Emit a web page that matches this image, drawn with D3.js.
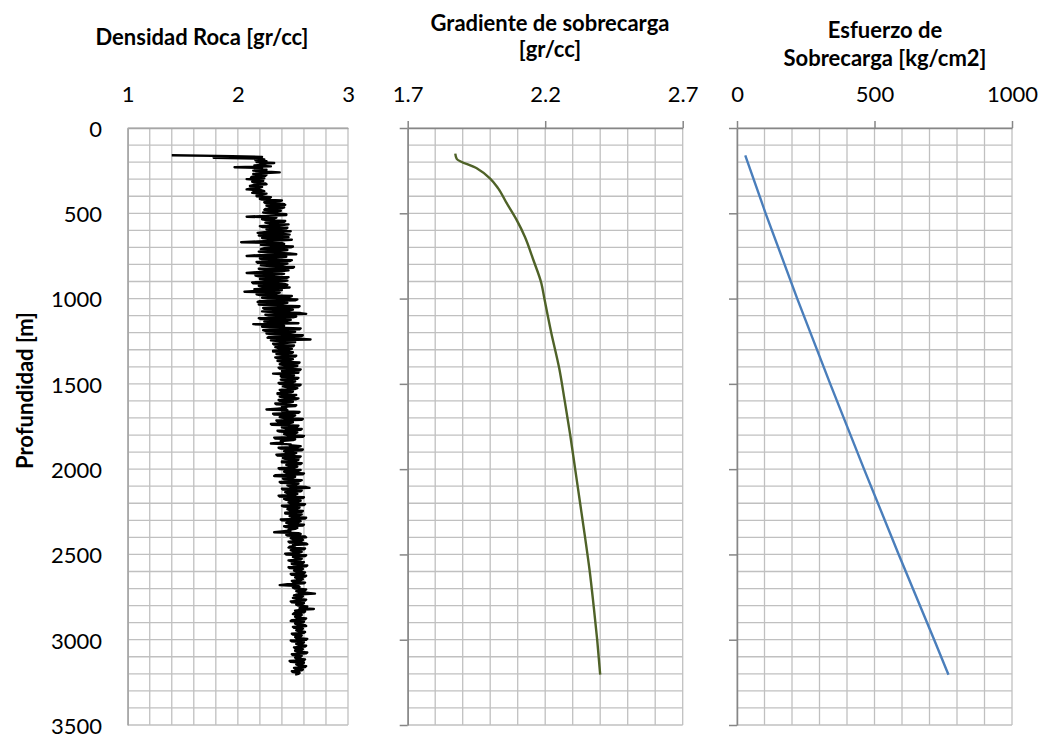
<!DOCTYPE html>
<html>
<head>
<meta charset="utf-8">
<script src="https://cdn.jsdelivr.net/npm/d3@7"></script>
<style>
  html, body { margin: 0; padding: 0; background: #ffffff; }
  svg { display: block; }
</style>
</head>
<body>
<svg id="chart" width="1042" height="736"></svg>
<script>
// ---------------- DATA ----------------
// Titles / labels
const titleRoca = ["Densidad Roca [gr/cc]"];
const titleGradiente = ["Gradiente de sobrecarga", "[gr/cc]"];
const titleEsfuerzo = ["Esfuerzo de", "Sobrecarga [kg/cm2]"];
const yAxisTitle = "Profundidad [m]";

// Tick values
const depthTicks = [0, 500, 1000, 1500, 2000, 2500, 3000, 3500];
const rocaTicks = [1, 2, 3];
const gradTicks = [1.7, 2.2, 2.7];
const esfTicks = [0, 500, 1000];

// Panel 1: rock density log, sampled every 5 m starting at 160 m
const rocaStartDepth = 160;
const rocaStep = 5;
const densidadRoca = [
  1.40, 1.95, 2.22, 1.78, 2.19, 2.24, 2.16, 2.26, 2.17, 2.33, 2.20, 2.25, 2.15, 2.30, 1.97, 2.22, 2.16, 2.26, 2.14, 2.23,
  2.38, 2.21, 2.14, 2.26, 2.25, 2.13, 2.12, 2.24, 2.08, 2.20, 2.23, 2.13, 2.15, 2.25, 2.26, 2.14, 2.11, 2.22, 2.20, 2.12,
  2.08, 2.21, 2.24, 2.15, 2.13, 2.26, 2.21, 2.17, 2.17, 2.30, 2.29, 2.20, 2.22, 2.40, 2.38, 2.24, 2.25, 2.41, 2.43, 2.26,
  2.28, 2.42, 2.40, 2.25, 2.24, 2.39, 2.36, 2.23, 2.30, 2.44, 2.44, 2.27, 2.08, 2.35, 2.33, 2.22, 2.26, 2.43, 2.42, 2.25,
  2.29, 2.46, 2.38, 2.20, 2.22, 2.45, 2.44, 2.26, 2.31, 2.48, 2.26, 2.18, 2.40, 2.47, 2.19, 2.30, 2.46, 2.22, 2.27, 2.49,
  2.36, 2.18, 2.03, 2.40, 2.42, 2.21, 2.30, 2.50, 2.48, 2.24, 2.21, 2.45, 2.39, 2.19, 2.27, 2.47, 2.53, 2.20, 2.08, 2.44,
  2.35, 2.20, 2.22, 2.49, 2.47, 2.17, 2.18, 2.45, 2.41, 2.21, 2.29, 2.51, 2.50, 2.19, 2.24, 2.46, 2.38, 2.17, 2.08, 2.42,
  2.33, 2.16, 2.19, 2.46, 2.44, 2.20, 2.26, 2.45, 2.37, 2.13, 2.14, 2.43, 2.45, 2.19, 2.22, 2.47, 2.31, 2.15, 2.40, 2.18,
  2.06, 2.38, 2.35, 2.17, 2.20, 2.49, 2.47, 2.22, 2.27, 2.54, 2.52, 2.20, 2.18, 2.45, 2.41, 2.19, 2.30, 2.56, 2.55, 2.23,
  2.24, 2.50, 2.46, 2.22, 2.33, 2.57, 2.62, 2.25, 2.28, 2.53, 2.50, 2.19, 2.21, 2.48, 2.44, 2.24, 2.36, 2.55, 2.14, 2.40,
  2.42, 2.22, 2.29, 2.57, 2.56, 2.23, 2.25, 2.52, 2.48, 2.26, 2.34, 2.59, 2.58, 2.28, 2.27, 2.55, 2.66, 2.30, 2.38, 2.52,
  2.45, 2.32, 2.33, 2.51, 2.50, 2.34, 2.37, 2.49, 2.47, 2.32, 2.32, 2.50, 2.49, 2.35, 2.40, 2.53, 2.52, 2.34, 2.36, 2.50,
  2.48, 2.36, 2.39, 2.56, 2.55, 2.38, 2.42, 2.54, 2.50, 2.37, 2.38, 2.57, 2.56, 2.40, 2.44, 2.55, 2.32, 2.45, 2.51, 2.39,
  2.40, 2.55, 2.54, 2.39, 2.43, 2.52, 2.50, 2.37, 2.38, 2.57, 2.56, 2.41, 2.45, 2.54, 2.52, 2.38, 2.39, 2.50, 2.48, 2.36,
  2.36, 2.53, 2.51, 2.38, 2.42, 2.55, 2.53, 2.37, 2.38, 2.50, 2.47, 2.34, 2.35, 2.53, 2.52, 2.40, 2.44, 2.36, 2.26, 2.45,
  2.40, 2.56, 2.55, 2.32, 2.33, 2.52, 2.50, 2.38, 2.42, 2.59, 2.58, 2.35, 2.36, 2.50, 2.47, 2.30, 2.31, 2.55, 2.54, 2.40,
  2.43, 2.58, 2.57, 2.36, 2.38, 2.54, 2.52, 2.42, 2.45, 2.60, 2.59, 2.33, 2.34, 2.52, 2.50, 2.39, 2.41, 2.38, 2.30, 2.48,
  2.47, 2.57, 2.55, 2.37, 2.39, 2.59, 2.58, 2.42, 2.44, 2.53, 2.51, 2.35, 2.36, 2.57, 2.56, 2.41, 2.43, 2.55, 2.53, 2.40,
  2.40, 2.58, 2.57, 2.44, 2.46, 2.54, 2.52, 2.37, 2.38, 2.57, 2.55, 2.42, 2.44, 2.60, 2.59, 2.34, 2.33, 2.52, 2.50, 2.41,
  2.42, 2.58, 2.56, 2.38, 2.39, 2.55, 2.53, 2.45, 2.47, 2.62, 2.65, 2.40, 2.41, 2.58, 2.57, 2.43, 2.45, 2.54, 2.52, 2.37,
  2.38, 2.60, 2.59, 2.42, 2.44, 2.57, 2.55, 2.46, 2.48, 2.61, 2.60, 2.40, 2.42, 2.56, 2.54, 2.45, 2.47, 2.59, 2.58, 2.43,
  2.43, 2.58, 2.56, 2.47, 2.49, 2.62, 2.61, 2.39, 2.40, 2.57, 2.55, 2.44, 2.46, 2.60, 2.59, 2.42, 2.44, 2.54, 2.52, 2.46,
  2.48, 2.40, 2.33, 2.55, 2.57, 2.44, 2.45, 2.61, 2.62, 2.48, 2.50, 2.59, 2.58, 2.46, 2.47, 2.62, 2.63, 2.50, 2.52, 2.47,
  2.46, 2.61, 2.60, 2.48, 2.50, 2.58, 2.56, 2.43, 2.44, 2.62, 2.61, 2.50, 2.52, 2.58, 2.57, 2.46, 2.48, 2.60, 2.59, 2.49,
  2.51, 2.63, 2.62, 2.46, 2.47, 2.59, 2.58, 2.51, 2.53, 2.61, 2.60, 2.48, 2.49, 2.62, 2.61, 2.52, 2.54, 2.59, 2.57, 2.49,
  2.50, 2.61, 2.60, 2.45, 2.38, 2.55, 2.56, 2.50, 2.52, 2.62, 2.61, 2.53, 2.55, 2.62, 2.70, 2.54, 2.51, 2.59, 2.58, 2.50,
  2.53, 2.62, 2.61, 2.48, 2.49, 2.60, 2.59, 2.53, 2.55, 2.63, 2.62, 2.56, 2.69, 2.57, 2.52, 2.61, 2.60, 2.51, 2.50, 2.58,
  2.57, 2.52, 2.53, 2.62, 2.61, 2.49, 2.48, 2.60, 2.59, 2.52, 2.54, 2.61, 2.62, 2.50, 2.51, 2.59, 2.58, 2.53, 2.55, 2.61,
  2.60, 2.49, 2.50, 2.58, 2.57, 2.52, 2.53, 2.63, 2.62, 2.48, 2.49, 2.60, 2.59, 2.53, 2.55, 2.62, 2.61, 2.51, 2.52, 2.59,
  2.58, 2.52, 2.54, 2.63, 2.62, 2.49, 2.50, 2.58, 2.57, 2.52, 2.53, 2.61, 2.60, 2.47, 2.48, 2.60, 2.59, 2.53, 2.55, 2.62,
  2.61, 2.51, 2.52, 2.59, 2.58, 2.49, 2.50, 2.56, 2.55, 2.52
];

// Panel 2: overburden gradient
const gradDepth = [150, 180, 236, 295, 354, 441, 539, 637, 774, 910, 1000, 1200, 1409, 1600, 1800, 2000, 2200, 2400, 2600, 2800, 3000, 3205];
const gradValue = [1.873, 1.878, 1.951, 1.999, 2.029, 2.060, 2.096, 2.126, 2.157, 2.186, 2.197, 2.222, 2.251, 2.271, 2.291, 2.309, 2.327, 2.345, 2.362, 2.376, 2.389, 2.400];

// Panel 3: overburden stress
const esfDepth = [160, 500, 1000, 1500, 2000, 2500, 3000, 3205];
const esfValue = [30, 104, 219, 339, 462, 588, 717, 769];

// ---------------- LAYOUT ----------------
const svg = d3.select("#chart");
const FONT = "Lato, 'Open Sans', 'Liberation Sans', sans-serif";
const TOP = 128, BOTTOM = 725;

const y = d3.scaleLinear().domain([0, 3500]).range([TOP, BOTTOM]);

const panels = [
  { x: d3.scaleLinear().domain([1, 3]).range([127.7, 348]),
    xTicks: rocaTicks, xMinor: 0.2, fmt: d3.format("d"), showTicks: false,
    title: titleRoca, titleX: 202, titleY: [45] },
  { x: d3.scaleLinear().domain([1.7, 2.7]).range([407.7, 682.7]),
    xTicks: gradTicks, xMinor: 0.1, fmt: d3.format(".1f"), showTicks: true,
    title: titleGradiente, titleX: 550, titleY: [31, 57] },
  { x: d3.scaleLinear().domain([0, 1000]).range([737, 1012]),
    xTicks: esfTicks, xMinor: 100, fmt: d3.format("d"), showTicks: true,
    title: titleEsfuerzo, titleX: 885, titleY: [38, 66] }
];

const gridColor = "#c0c0c0";
const axisColor = "#868686";

panels.forEach((p, i) => {
  const g = svg.append("g");
  const [x0, x1] = p.x.range();
  const [d0, d1] = p.x.domain();

  // vertical gridlines
  const nV = Math.round((d1 - d0) / p.xMinor);
  const vVals = d3.range(nV + 1).map(k => d0 + k * p.xMinor);
  g.append("g").selectAll("line").data(vVals).join("line")
    .attr("x1", d => p.x(d)).attr("x2", d => p.x(d))
    .attr("y1", TOP).attr("y2", BOTTOM)
    .attr("stroke", gridColor).attr("stroke-width", 1.3);

  // horizontal gridlines every 100 m
  const hVals = d3.range(0, 3501, 100);
  g.append("g").selectAll("line").data(hVals).join("line")
    .attr("x1", x0).attr("x2", x1)
    .attr("y1", d => y(d)).attr("y2", d => y(d))
    .attr("stroke", gridColor).attr("stroke-width", 1.3);

  // top axis
  const ax = d3.axisTop(p.x).tickValues(p.xTicks).tickFormat(p.fmt)
    .tickSizeInner(p.showTicks ? 7 : 0).tickSizeOuter(0);
  const axG = g.append("g").attr("transform", `translate(0,${TOP})`).call(ax);
  axG.attr("font-family", FONT).attr("font-size", 22);
  axG.select(".domain").attr("stroke", p.showTicks ? axisColor : "#a6a6a6").attr("stroke-width", 1.5);
  axG.selectAll(".tick line").attr("stroke", axisColor).attr("stroke-width", 1.5);
  axG.selectAll(".tick text").attr("y", -26.5).attr("dy", 0).attr("fill", "#000");

  // left axis
  const ay = d3.axisLeft(y).tickValues(depthTicks)
    .tickSizeInner(p.showTicks ? 8 : 0).tickSizeOuter(0)
    .tickFormat(i === 0 ? d3.format("d") : () => "");
  const ayG = g.append("g").attr("transform", `translate(${x0},0)`).call(ay);
  ayG.attr("font-family", FONT).attr("font-size", 22);
  ayG.select(".domain").attr("stroke", p.showTicks ? axisColor : "#a6a6a6").attr("stroke-width", 1.5);
  ayG.selectAll(".tick line").attr("stroke", axisColor).attr("stroke-width", 1.5);
  ayG.selectAll(".tick text").attr("x", -25.7).attr("dy", "0.38em").attr("fill", "#000");

  // title
  const t = svg.append("text")
    .attr("font-family", FONT).attr("font-weight", "bold").attr("font-size", 22)
    .attr("text-anchor", "middle").attr("fill", "#000");
  p.title.forEach((line, k) => {
    t.append("tspan").attr("x", p.titleX).attr("y", p.titleY[k]).text(line);
  });
});

// Y-axis title
svg.append("text")
  .attr("transform", `translate(33,312) rotate(-90)`)
  .attr("font-family", FONT).attr("font-weight", "bold").attr("font-size", 22)
  .attr("text-anchor", "end").attr("fill", "#000")
  .text(yAxisTitle);

// ---------------- SERIES ----------------
const rocaData = densidadRoca.map((v, k) => ({ d: rocaStartDepth + k * rocaStep, v }));
svg.append("path")
  .datum(rocaData)
  .attr("fill", "none").attr("stroke", "#000").attr("stroke-width", 2.4)
  .attr("stroke-linejoin", "round")
  .attr("d", d3.line().x(d => panels[0].x(d.v)).y(d => y(d.d)));

const gradData = gradDepth.map((d, k) => ({ d, v: gradValue[k] }));
svg.append("path")
  .datum(gradData)
  .attr("fill", "none").attr("stroke", "#4f6228").attr("stroke-width", 2.4)
  .attr("d", d3.line().curve(d3.curveMonotoneY).x(d => panels[1].x(d.v)).y(d => y(d.d)));

const esfData = esfDepth.map((d, k) => ({ d, v: esfValue[k] }));
svg.append("path")
  .datum(esfData)
  .attr("fill", "none").attr("stroke", "#4a7ebb").attr("stroke-width", 2.4)
  .attr("d", d3.line().x(d => panels[2].x(d.v)).y(d => y(d.d)));
</script>
</body>
</html>
